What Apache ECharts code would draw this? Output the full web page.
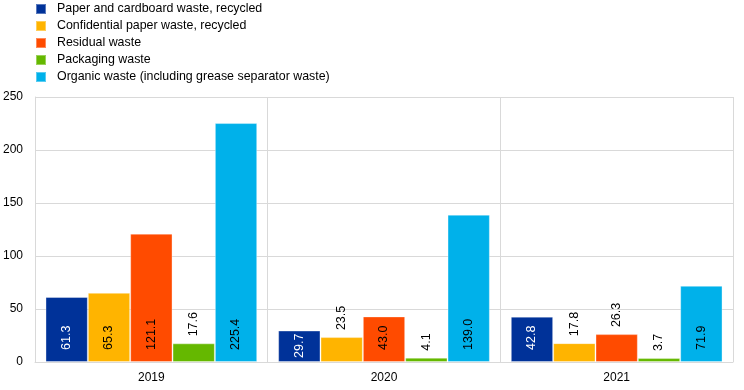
<!DOCTYPE html>
<html><head><meta charset="utf-8">
<script src="https://cdn.jsdelivr.net/npm/echarts@6/dist/echarts.min.js"></script>
<style>html,body{margin:0;padding:0;background:#fff}#c{width:744px;height:390px}</style>
</head><body><div id="c"></div>
<script>
const years = ['2019', '2020', '2021'];
const seriesNames = [
  'Paper and cardboard waste, recycled',
  'Confidential paper waste, recycled',
  'Residual waste',
  'Packaging waste',
  'Organic waste (including grease separator waste)'
];
const paper = [61.3, 29.7, 42.8];
const confidential = [65.3, 23.5, 17.8];
const residual = [121.1, 43.0, 26.3];
const packaging = [17.6, 4.1, 3.7];
const organic = [225.4, 139.0, 71.9];
const yTicks = [0, 50, 100, 150, 200, 250];

const colors = ['#003299', '#FFB400', '#FF4B00', '#65B800', '#00B1EA'];
const labelColors = ['#fff', '#000', '#000', '#000', '#000'];
const allData = [paper, confidential, residual, packaging, organic];
const FONT = '"Liberation Sans", Arial, sans-serif';

function items(arr, idx) {
  return arr.map(v => {
    const inside = v >= 28;
    return {
      value: v,
      label: {
        position: inside ? 'insideBottom' : 'top',
        distance: inside ? (v < 35 ? 4 : 12) : 7,
        color: inside ? labelColors[idx] : '#000'
      }
    };
  });
}

const series = allData.map((arr, i) => ({
  name: seriesNames[i],
  type: 'bar',
  data: items(arr, i),
  barGap: '0%',
  barCategoryGap: '9%',
  itemStyle: { color: colors[i], borderColor: 'rgba(255,255,255,0.35)', borderWidth: 1 },
  label: {
    show: true,
    rotate: 90,
    align: 'left',
    verticalAlign: 'middle',
    fontFamily: FONT,
    fontSize: 12.5,
    formatter: p => p.value.toFixed(1)
  }
}));

const chart = echarts.init(document.getElementById('c'));
chart.setOption({
  animation: false,
  color: colors,
  legend: {
    orient: 'vertical',
    left: 35,
    top: 3,
    padding: 0,
    itemWidth: 10,
    itemHeight: 10,
    itemGap: 5,
    icon: 'rect',
    textStyle: { fontFamily: FONT, fontSize: 12.4, color: '#000', padding: [0, 0, 0, 6] },
    data: seriesNames
  },
  grid: { left: 35, right: 11, top: 97, bottom: 28 },
  xAxis: {
    type: 'category',
    data: years,
    axisLine: { show: true, lineStyle: { color: '#d9d9d9' } },
    axisTick: { show: false },
    splitLine: { show: true, interval: 0, lineStyle: { color: '#d9d9d9' } },
    axisLabel: { fontFamily: FONT, fontSize: 12, color: '#000', margin: 10 }
  },
  yAxis: {
    type: 'value',
    min: yTicks[0],
    max: yTicks[yTicks.length - 1],
    interval: 50,
    axisLine: { show: true, lineStyle: { color: '#d9d9d9' } },
    axisTick: { show: false },
    splitLine: { show: true, lineStyle: { color: '#d9d9d9' } },
    axisLabel: { fontFamily: FONT, fontSize: 12, color: '#000', margin: 12 }
  },
  series: series
});
</script></body></html>
